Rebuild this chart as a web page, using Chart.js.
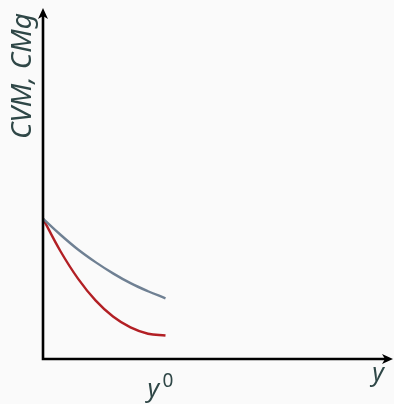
<!DOCTYPE html>
<html>
<head>
<meta charset="utf-8">
<script src="https://cdn.jsdelivr.net/npm/chart.js@4/dist/chart.umd.min.js"></script>
<style>
  html, body { margin: 0; padding: 0; background: #fafafa; }
  #wrap { width: 394px; height: 404px; }
</style>
</head>
<body>
<div id="wrap"><canvas id="costChart" width="394" height="404"></canvas></div>
<script>
// output levels along the horizontal axis
const outputLevels = [0, 0.5, 1, 1.5, 2, 2.5, 3, 3.5];
// average variable cost (CVM) and marginal cost (CMg)
const cvmValues = [4.0, 3.54, 3.12, 2.76, 2.44, 2.16, 1.93, 1.73];
const cmgValues = [4.0, 3.07, 2.29, 1.67, 1.21, 0.90, 0.72, 0.67];
// marked output level on the x axis
const y0Mark = 3.5;

const textColor = '#2f4747';

function toPoints(xs, ys) {
  return xs.map((x, i) => ({ x: x, y: ys[i] }));
}

// background, arrow axes and axis labels
const axesPlugin = {
  id: 'arrowAxes',
  beforeDraw(chart) {
    const c = chart.ctx;
    c.save();
    c.fillStyle = '#fafafa';
    c.fillRect(0, 0, chart.width, chart.height);
    c.restore();
  },
  afterDatasetsDraw(chart) {
    const c = chart.ctx;
    const xs = chart.scales.x, ys = chart.scales.y;
    const x0 = xs.getPixelForValue(0), y0 = ys.getPixelForValue(0);
    const xEnd = xs.getPixelForValue(10), yEnd = ys.getPixelForValue(10);
    c.save();
    c.strokeStyle = '#000';
    c.fillStyle = '#000';
    c.lineWidth = 2.6;
    c.beginPath();
    c.moveTo(x0, yEnd + 5);
    c.lineTo(x0, y0);
    c.lineTo(xEnd - 5, y0);
    c.stroke();
    // arrow heads
    c.beginPath();
    c.moveTo(x0, yEnd);
    c.lineTo(x0 - 5, yEnd + 11);
    c.lineTo(x0, yEnd + 8);
    c.lineTo(x0 + 5, yEnd + 11);
    c.closePath();
    c.fill();
    c.beginPath();
    c.moveTo(xEnd, y0);
    c.lineTo(xEnd - 11, y0 - 5);
    c.lineTo(xEnd - 8, y0);
    c.lineTo(xEnd - 11, y0 + 5);
    c.closePath();
    c.fill();

    c.fillStyle = textColor;
    c.font = 'italic 28px "Noto Sans"';
    // vertical axis title
    c.save();
    c.translate(31, 76);
    c.rotate(-Math.PI / 2);
    c.textAlign = 'center';
    c.textBaseline = 'alphabetic';
    c.fillText('CVM, CMg', 0, 0);
    c.restore();
    // horizontal axis title
    c.font = 'italic 25px "Noto Sans"';
    c.textAlign = 'center';
    c.fillText('y', 378, 381);
    // y0 marker
    const mx = xs.getPixelForValue(y0Mark);
    c.textAlign = 'left';
    c.fillText('y', mx - 18, 397);
    c.font = '19px "Noto Sans"';
    c.fillText('0', mx - 3, 387);
    c.restore();
  }
};

new Chart(document.getElementById('costChart'), {
  type: 'line',
  data: {
    datasets: [
      {
        label: 'CVM',
        data: toPoints(outputLevels, cvmValues),
        borderColor: '#6f8093',
        borderWidth: 2.4,
        pointRadius: 0,
        tension: 0.4,
        fill: false
      },
      {
        label: 'CMg',
        data: toPoints(outputLevels, cmgValues),
        borderColor: '#b21f24',
        borderWidth: 2.4,
        pointRadius: 0,
        tension: 0.4,
        fill: false
      }
    ]
  },
  options: {
    responsive: false,
    animation: false,
    layout: { padding: { left: 43, right: 1, top: 8, bottom: 45 } },
    plugins: { legend: { display: false }, tooltip: { enabled: false } },
    scales: {
      x: { type: 'linear', min: 0, max: 10, display: false },
      y: { type: 'linear', min: 0, max: 10, display: false }
    }
  },
  plugins: [axesPlugin]
});
</script>
</body>
</html>
